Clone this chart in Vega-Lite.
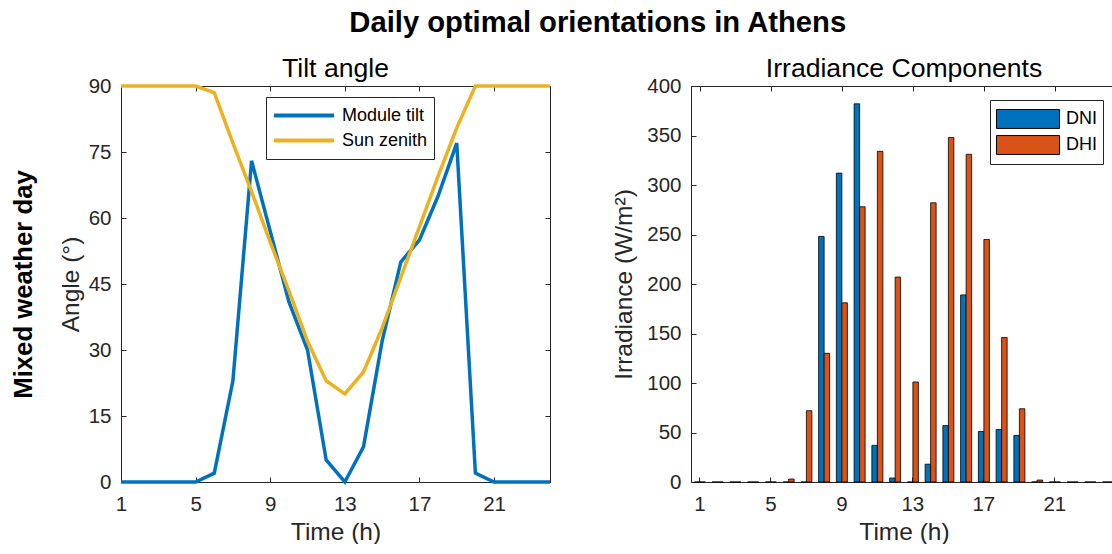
{
  "$schema": "https://vega.github.io/schema/vega-lite/v6.json",
  "padding": {"left": 9, "top": 8, "right": 0, "bottom": 0},
  "background": "white",
  "title": {
    "text": "Daily optimal orientations in Athens",
    "fontSize": 29.2,
    "fontWeight": "bold",
    "color": "#000000",
    "anchor": "middle",
    "baseline": "alphabetic",
    "offset": -5,
    "dx": 34
  },
  "datasets": {
    "angles": [
      {"hour": 1, "series": "Module tilt", "angle": 0},
      {"hour": 2, "series": "Module tilt", "angle": 0},
      {"hour": 3, "series": "Module tilt", "angle": 0},
      {"hour": 4, "series": "Module tilt", "angle": 0},
      {"hour": 5, "series": "Module tilt", "angle": 0},
      {"hour": 6, "series": "Module tilt", "angle": 2},
      {"hour": 7, "series": "Module tilt", "angle": 23},
      {"hour": 8, "series": "Module tilt", "angle": 73},
      {"hour": 9, "series": "Module tilt", "angle": 57},
      {"hour": 10, "series": "Module tilt", "angle": 41},
      {"hour": 11, "series": "Module tilt", "angle": 30},
      {"hour": 12, "series": "Module tilt", "angle": 5},
      {"hour": 13, "series": "Module tilt", "angle": 0},
      {"hour": 14, "series": "Module tilt", "angle": 8},
      {"hour": 15, "series": "Module tilt", "angle": 32},
      {"hour": 16, "series": "Module tilt", "angle": 50},
      {"hour": 17, "series": "Module tilt", "angle": 55},
      {"hour": 18, "series": "Module tilt", "angle": 65},
      {"hour": 19, "series": "Module tilt", "angle": 77},
      {"hour": 20, "series": "Module tilt", "angle": 2},
      {"hour": 21, "series": "Module tilt", "angle": 0},
      {"hour": 22, "series": "Module tilt", "angle": 0},
      {"hour": 23, "series": "Module tilt", "angle": 0},
      {"hour": 24, "series": "Module tilt", "angle": 0},
      {"hour": 1, "series": "Sun zenith", "angle": 90},
      {"hour": 2, "series": "Sun zenith", "angle": 90},
      {"hour": 3, "series": "Sun zenith", "angle": 90},
      {"hour": 4, "series": "Sun zenith", "angle": 90},
      {"hour": 5, "series": "Sun zenith", "angle": 90},
      {"hour": 6, "series": "Sun zenith", "angle": 88.5},
      {"hour": 7, "series": "Sun zenith", "angle": 77},
      {"hour": 8, "series": "Sun zenith", "angle": 66},
      {"hour": 9, "series": "Sun zenith", "angle": 54.5},
      {"hour": 10, "series": "Sun zenith", "angle": 43.5},
      {"hour": 11, "series": "Sun zenith", "angle": 32},
      {"hour": 12, "series": "Sun zenith", "angle": 23},
      {"hour": 13, "series": "Sun zenith", "angle": 20},
      {"hour": 14, "series": "Sun zenith", "angle": 25},
      {"hour": 15, "series": "Sun zenith", "angle": 35},
      {"hour": 16, "series": "Sun zenith", "angle": 46.5},
      {"hour": 17, "series": "Sun zenith", "angle": 58},
      {"hour": 18, "series": "Sun zenith", "angle": 69.5},
      {"hour": 19, "series": "Sun zenith", "angle": 80.5},
      {"hour": 20, "series": "Sun zenith", "angle": 90},
      {"hour": 21, "series": "Sun zenith", "angle": 90},
      {"hour": 22, "series": "Sun zenith", "angle": 90},
      {"hour": 23, "series": "Sun zenith", "angle": 90},
      {"hour": 24, "series": "Sun zenith", "angle": 90}
    ],
    "irradiance": [
      {"hour": 1, "component": "DNI", "irradiance": 0},
      {"hour": 2, "component": "DNI", "irradiance": 0},
      {"hour": 3, "component": "DNI", "irradiance": 0},
      {"hour": 4, "component": "DNI", "irradiance": 0},
      {"hour": 5, "component": "DNI", "irradiance": 0},
      {"hour": 6, "component": "DNI", "irradiance": 0},
      {"hour": 7, "component": "DNI", "irradiance": 0},
      {"hour": 8, "component": "DNI", "irradiance": 248},
      {"hour": 9, "component": "DNI", "irradiance": 312},
      {"hour": 10, "component": "DNI", "irradiance": 382},
      {"hour": 11, "component": "DNI", "irradiance": 37},
      {"hour": 12, "component": "DNI", "irradiance": 4},
      {"hour": 13, "component": "DNI", "irradiance": 0},
      {"hour": 14, "component": "DNI", "irradiance": 18},
      {"hour": 15, "component": "DNI", "irradiance": 57},
      {"hour": 16, "component": "DNI", "irradiance": 189},
      {"hour": 17, "component": "DNI", "irradiance": 51},
      {"hour": 18, "component": "DNI", "irradiance": 53},
      {"hour": 19, "component": "DNI", "irradiance": 47},
      {"hour": 20, "component": "DNI", "irradiance": 0},
      {"hour": 21, "component": "DNI", "irradiance": 0},
      {"hour": 22, "component": "DNI", "irradiance": 0},
      {"hour": 23, "component": "DNI", "irradiance": 0},
      {"hour": 24, "component": "DNI", "irradiance": 0},
      {"hour": 1, "component": "DHI", "irradiance": 0},
      {"hour": 2, "component": "DHI", "irradiance": 0},
      {"hour": 3, "component": "DHI", "irradiance": 0},
      {"hour": 4, "component": "DHI", "irradiance": 0},
      {"hour": 5, "component": "DHI", "irradiance": 0},
      {"hour": 6, "component": "DHI", "irradiance": 3},
      {"hour": 7, "component": "DHI", "irradiance": 72},
      {"hour": 8, "component": "DHI", "irradiance": 130},
      {"hour": 9, "component": "DHI", "irradiance": 181},
      {"hour": 10, "component": "DHI", "irradiance": 278},
      {"hour": 11, "component": "DHI", "irradiance": 334},
      {"hour": 12, "component": "DHI", "irradiance": 207},
      {"hour": 13, "component": "DHI", "irradiance": 101},
      {"hour": 14, "component": "DHI", "irradiance": 282},
      {"hour": 15, "component": "DHI", "irradiance": 348},
      {"hour": 16, "component": "DHI", "irradiance": 331},
      {"hour": 17, "component": "DHI", "irradiance": 245},
      {"hour": 18, "component": "DHI", "irradiance": 146},
      {"hour": 19, "component": "DHI", "irradiance": 74},
      {"hour": 20, "component": "DHI", "irradiance": 2},
      {"hour": 21, "component": "DHI", "irradiance": 0},
      {"hour": 22, "component": "DHI", "irradiance": 0},
      {"hour": 23, "component": "DHI", "irradiance": 0},
      {"hour": 24, "component": "DHI", "irradiance": 0}
    ]
  },
  "spacing": 53,
  "resolve": {"scale": {"color": "independent"}, "legend": {"color": "independent"}},
  "hconcat": [
    {
      "data": {"name": "angles"},
      "title": {"text": "Tilt angle"},
      "width": 429,
      "height": 396,
      "layer": [
        {
          "mark": {"type": "line", "strokeWidth": 3.5},
          "encoding": {
            "x": {
              "field": "hour",
              "type": "quantitative",
              "title": "Time (h)",
              "scale": {"domain": [1, 24], "nice": false, "zero": false},
              "axis": {"values": [1, 5, 9, 13, 17, 21]}
            },
            "y": {
              "field": "angle",
              "type": "quantitative",
              "title": "Angle (°)",
              "scale": {"domain": [0, 90], "nice": false},
              "axis": {"values": [0, 15, 30, 45, 60, 75, 90]}
            },
            "color": {
              "field": "series",
              "type": "nominal",
              "title": null,
              "scale": {"domain": ["Module tilt", "Sun zenith"], "range": ["#0072BD", "#EDB120"]},
              "legend": {
                "orient": "none",
                "legendX": 145,
                "legendY": 11,
                "symbolType": "stroke",
                "symbolSize": 3600,
                "symbolStrokeWidth": 4,
                "clipHeight": 25
              }
            }
          }
        },
        {
          "mark": {"type": "point", "opacity": 0},
          "encoding": {
            "x": {
              "field": "hour",
              "type": "quantitative",
              "scale": {"domain": [1, 24], "nice": false, "zero": false},
              "axis": {"orient": "top", "values": [1, 5, 9, 13, 17, 21], "labels": false, "title": null, "domain": false}
            },
            "y": {
              "field": "angle",
              "type": "quantitative",
              "scale": {"domain": [0, 90], "nice": false},
              "axis": {"orient": "right", "values": [0, 15, 30, 45, 60, 75, 90], "labels": false, "title": null, "domain": false}
            }
          }
        },
        {
          "mark": {"type": "point", "opacity": 0},
          "encoding": {
            "y": {
              "field": "angle",
              "type": "quantitative",
              "scale": {"domain": [0, 90], "nice": false},
              "axis": {
                "orient": "left",
                "title": "Mixed weather day",
                "titleFontSize": 25.7,
                "titleFontWeight": "bold",
                "titleColor": "#000000",
                "titlePadding": 85,
                "labels": false,
                "ticks": false,
                "domain": false
              }
            }
          }
        }
      ],
      "resolve": {"scale": {"x": "independent", "y": "independent"}}
    },
    {
      "data": {"name": "irradiance"},
      "title": {"text": "Irradiance Components"},
      "width": 426,
      "height": 396,
      "layer": [
        {
          "mark": {"type": "bar", "stroke": "#000000", "strokeWidth": 0.8},
          "encoding": {
            "x": {
              "field": "hour",
              "type": "ordinal",
              "title": "Time (h)",
              "scale": {"type": "band", "paddingInner": 0.38, "paddingOuter": 0.19},
              "axis": {"values": [1, 5, 9, 13, 17, 21], "labelAngle": 0, "bandPosition": 0.5}
            },
            "xOffset": {
              "field": "component",
              "type": "nominal",
              "scale": {"domain": ["DNI", "DHI"], "paddingInner": 0, "paddingOuter": 0}
            },
            "y": {
              "field": "irradiance",
              "type": "quantitative",
              "title": "Irradiance (W/m²)",
              "scale": {"domain": [0, 400], "nice": false},
              "axis": {"values": [0, 50, 100, 150, 200, 250, 300, 350, 400], "titlePadding": 10}
            },
            "color": {
              "field": "component",
              "type": "nominal",
              "title": null,
              "scale": {"domain": ["DNI", "DHI"], "range": ["#0072BD", "#D95319"]},
              "legend": {
                "orient": "top-right",
                "offset": 14,
                "symbolType": "M-1,-0.3H1V0.3H-1Z",
                "symbolSize": 3969,
                "symbolStrokeColor": "#000000",
                "symbolStrokeWidth": 1,
                "clipHeight": 26
              }
            }
          }
        },
        {
          "mark": {"type": "point", "opacity": 0},
          "encoding": {
            "x": {
              "field": "hour",
              "type": "ordinal",
              "scale": {"type": "point", "padding": 0.5},
              "axis": {"orient": "top", "values": [1, 5, 9, 13, 17, 21], "labels": false, "title": null, "domain": false}
            },
            "y": {
              "field": "irradiance",
              "type": "quantitative",
              "scale": {"domain": [0, 400], "nice": false},
              "axis": {"orient": "right", "values": [0, 50, 100, 150, 200, 250, 300, 350, 400], "labels": false, "title": null, "domain": false}
            }
          }
        }
      ],
      "resolve": {"scale": {"x": "independent", "y": "independent"}}
    }
  ],
  "config": {
    "font": "Liberation Sans",
    "view": {"stroke": "#262626", "strokeWidth": 1},
    "title": {"fontSize": 26.6, "fontWeight": "normal", "color": "#000000", "anchor": "middle", "baseline": "alphabetic", "offset": -7},
    "axis": {
      "grid": false,
      "labelFlush": false,
      "domainColor": "#262626",
      "tickColor": "#262626",
      "labelColor": "#262626",
      "titleColor": "#262626",
      "labelFontSize": 20.5,
      "titleFontSize": 24.5,
      "titleFontWeight": "normal",
      "tickSize": -5,
      "labelPadding": 15,
      "titlePadding": 5
    },
    "axisX": {"labelPadding": 17.5},
    "legend": {
      "labelFontSize": 18,
      "labelColor": "#000000",
      "fillColor": "#ffffff",
      "strokeColor": "#262626",
      "padding": 6,
      "labelOffset": 6,
      "rowPadding": 0,
      "labelLimit": 300
    }
  }
}
